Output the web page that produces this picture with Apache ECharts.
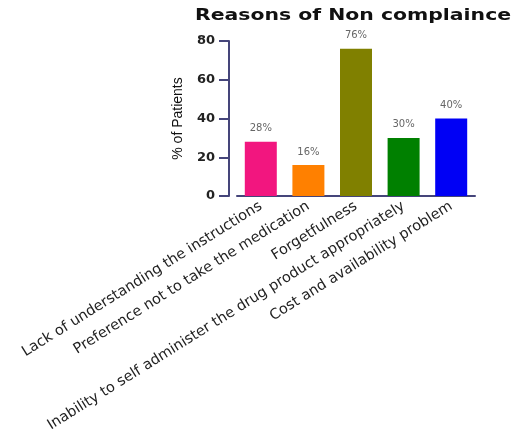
<!DOCTYPE html>
<html>
<head>
<meta charset="utf-8">
<script src="https://cdn.jsdelivr.net/npm/echarts@6/dist/echarts.min.js"></script>
<style>
html, body { margin: 0; padding: 0; background: #fff; }
#main { width: 519px; height: 441px; }
</style>
</head>
<body>
<div id="main"></div>
<script>
var chartTitle = 'Reasons of Non complaince';
var categories = ['Lack of understanding the instructions', 'Preference not to take the medication', 'Forgetfulness', 'Inability to self administer the drug product appropriately', 'Cost and availability problem'];
var values = [28, 16, 76, 30, 40];
var barColors = ['#f2167f', '#ff8000', '#808000', '#008000', '#0000f5'];
var yTicks = [0, 20, 40, 60, 80];

var myChart = echarts.init(document.getElementById('main'));
var axisColor = '#45457a';
var option = {
    // title drawn as graphic text so it can be stretched wide like the original
    graphic: [{
        type: 'text',
        x: 353,
        y: 16,
        scaleX: 1.36,
        style: {
            text: chartTitle,
            align: 'center',
            verticalAlign: 'middle',
            font: 'bold 15px "DejaVu Sans"',
            fill: '#111'
        }
    }],
    grid: { left: 237, right: 44, top: 41, bottom: 245 },
    xAxis: {
        type: 'category',
        data: categories,
        axisLine: { lineStyle: { color: axisColor, width: 2 } },
        axisTick: { alignWithLabel: true, length: 6, lineStyle: { color: axisColor, width: 2 } },
        axisLabel: {
            rotate: 32,
            interval: 0,
            margin: 9,
            fontFamily: 'DejaVu Sans',
            fontSize: 14.5,
            color: '#222'
        }
    },
    yAxis: {
        type: 'value',
        min: yTicks[0],
        max: yTicks[yTicks.length - 1],
        interval: 20,
        offset: 8,
        name: '% of Patients',
        nameLocation: 'middle',
        nameGap: 44,
        nameTextStyle: { fontFamily: 'Liberation Sans', fontSize: 14, color: '#111' },
        splitLine: { show: false },
        axisLine: { show: true, lineStyle: { color: axisColor, width: 2 } },
        axisTick: { show: true, length: 10, lineStyle: { color: axisColor, width: 2 } },
        axisLabel: { fontFamily: 'DejaVu Sans', fontWeight: 'bold', fontSize: 13, color: '#222', margin: 14 }
    },
    series: [{
        type: 'bar',
        barWidth: 32,
        data: values.map(function (v, i) {
            return { value: v, itemStyle: { color: barColors[i] } };
        }),
        label: {
            show: true,
            position: 'top',
            distance: 8,
            formatter: '{c}%',
            fontFamily: 'DejaVu Sans',
            fontSize: 10,
            color: '#666'
        }
    }]
};
myChart.setOption(option);
window.onresize = myChart.resize;
</script>
</body>
</html>
